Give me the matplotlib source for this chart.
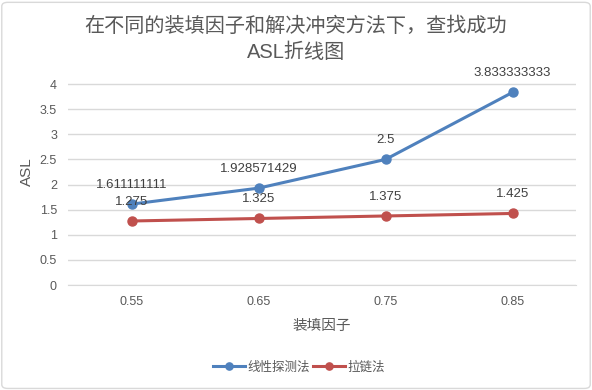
import matplotlib.pyplot as plt
from matplotlib.patches import FancyBboxPatch

plt.rcParams['font.family'] = ['Liberation Sans', 'Noto Sans CJK SC']

load_factors = ['0.55', '0.65', '0.75', '0.85']
linear_probe = [1.611111111, 1.928571429, 2.5, 3.833333333]
chaining = [1.275, 1.325, 1.375, 1.425]
label_linear = ['1.611111111', '1.928571429', '2.5', '3.833333333']
label_chain = ['1.275', '1.325', '1.375', '1.425']

grey = '#595959'
fig = plt.figure(figsize=(5.92, 3.90), dpi=100)
fig.patches.append(FancyBboxPatch((0.003, 0.004), 0.994, 0.99, boxstyle='round,pad=0,rounding_size=0.01',
                                  transform=fig.transFigure, fill=False, edgecolor='#D9D9D9', lw=1))
ax = fig.add_axes([0.115, 0.269, 0.858, 0.58])

x = range(len(load_factors))
ax.plot(x, linear_probe, color='#4F81BD', lw=2.2, marker='o', ms=6.5, label='线性探测法', zorder=3)
ax.plot(x, chaining, color='#C0504D', lw=2.2, marker='o', ms=6.5, label='拉链法', zorder=3)

for i in x:
    ax.annotate(label_linear[i], (i, linear_probe[i]), xytext=(0, 14), textcoords='offset points',
                ha='center', va='center', fontsize=9.5, color='#404040')
    ax.annotate(label_chain[i], (i, chaining[i]), xytext=(0, 14), textcoords='offset points',
                ha='center', va='center', fontsize=9.5, color='#404040')

ax.set_xlim(-0.5, 3.5)
ax.set_ylim(0, 4.5)
ax.set_yticks([0, 0.5, 1, 1.5, 2, 2.5, 3, 3.5, 4])
ax.set_yticklabels(['0', '0.5', '1', '1.5', '2', '2.5', '3', '3.5', '4'])
ax.set_xticks(list(x))
ax.set_xticklabels(load_factors)
ax.grid(axis='y', color='#D9D9D9', lw=1)
ax.set_axisbelow(True)
for s in ['top', 'right', 'left']:
    ax.spines[s].set_visible(False)
ax.spines['bottom'].set_color('#D9D9D9')
ax.tick_params(length=0, labelsize=9, colors=grey, pad=8)

ax.set_ylabel('ASL', fontsize=11, color=grey, labelpad=4)
ax.set_xlabel('装填因子', fontsize=10.5, color=grey, labelpad=8)
fig.text(0.5, 0.9, '在不同的装填因子和解决冲突方法下，查找成功\nASL折线图', ha='center', va='center',
         fontsize=14.5, color=grey, linespacing=1.45)
fig.legend(loc='center', bbox_to_anchor=(0.505, 0.058), ncol=2, frameon=False, fontsize=9,
           labelcolor=grey, handlelength=2.5, handletextpad=0.2, columnspacing=0.3, markerscale=0.8)

fig.savefig('out.png', dpi=100)
